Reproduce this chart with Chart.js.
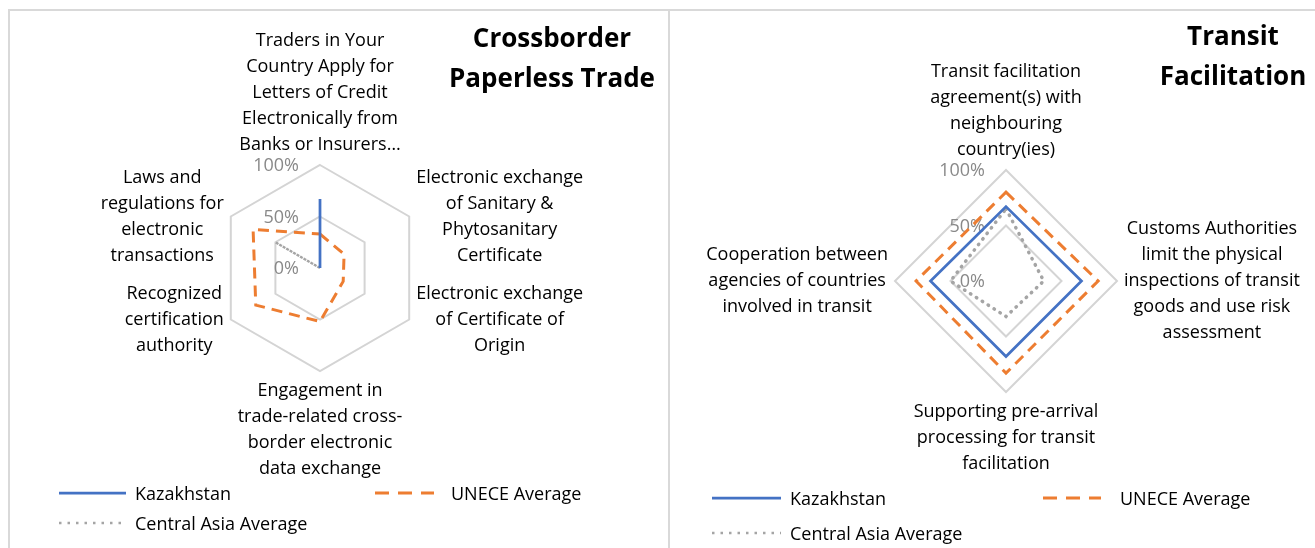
<!DOCTYPE html>
<html>
<head>
<meta charset="utf-8">
<script src="https://cdn.jsdelivr.net/npm/chart.js@4.4.1/dist/chart.umd.min.js"></script>
<style>
  html, body { margin: 0; padding: 0; background: #fff; }
  body { width: 1315px; height: 548px; position: relative; overflow: hidden; font-family: "Open Sans", sans-serif; }
  canvas { position: absolute; top: 0; }
  .panel { position: absolute; border: 2px solid #d9d9d9; box-sizing: border-box; }
  .title { position: absolute; width: 220px; text-align: center; font-weight: bold; font-size: 26px; line-height: 40px; color: #000; }
  .leg { position: absolute; font-size: 18px; line-height: 26px; color: #000; white-space: nowrap; }
  .legline { position: absolute; }
</style>
</head>
<body>
<div class="panel" style="left:8px;top:9px;width:662px;height:560px"></div>
<div class="panel" style="left:668px;top:9px;width:660px;height:560px"></div>
<canvas id="paperlessChart" width="668" height="548" style="left:0"></canvas>
<canvas id="transitChart" width="647" height="548" style="left:668px"></canvas>
<div class="title" style="left:442px;top:17px">Crossborder<br>Paperless Trade</div>
<div class="title" style="left:1123px;top:15px">Transit<br>Facilitation</div>
<div id="legends"></div>
<script>
// Series
const seriesNames = ['Kazakhstan', 'UNECE Average', 'Central Asia Average'];

// Crossborder paperless trade
const paperlessLabels = [
    ['Traders in Your', 'Country Apply for', 'Letters of Credit', 'Electronically from', 'Banks or Insurers…'],
    ['Electronic exchange', 'of Sanitary &', 'Phytosanitary', 'Certificate'],
    ['Electronic exchange', 'of Certificate of', 'Origin'],
    ['Engagement in', 'trade-related cross-', 'border electronic', 'data exchange'],
    ['Recognized', 'certification', 'authority'],
    ['Laws and', 'regulations for', 'electronic', 'transactions']
];
const paperlessKazakhstan = [67, 0, 0, 0, 0, 0];
const paperlessUnece = [33, 27, 26, 52, 72, 75];
const paperlessCentralAsia = [0, 0, 0, 0, 0, 50];

// Transit facilitation
const transitLabels = [
    ['Transit facilitation', 'agreement(s) with', 'neighbouring', 'country(ies)'],
    ['Customs Authorities', 'limit the physical', 'inspections of transit', 'goods and use risk', 'assessment'],
    ['Supporting pre-arrival', 'processing for transit', 'facilitation'],
    ['Cooperation between', 'agencies of countries', 'involved in transit']
];
const transitKazakhstan = [67, 68, 68, 68];
const transitUnece = [80, 83, 83, 81];
const transitCentralAsia = [65, 34, 32, 50];

// Axis
const axisMin = 0;
const axisMax = 100;
const axisStep = 50;

const BLUE = '#4472c4';
const ORANGE = '#ed7d31';
const GREY = '#a5a5a5';

Chart.defaults.font.family = '"Open Sans", sans-serif';

// point labels and tick labels placed the way Excel does it
const excelLabels = {
    id: 'excelLabels',
    beforeDatasetsDraw(chart) {
        const scale = chart.scales.r;
        const ctx = chart.ctx;
        ctx.save();
        ctx.font = '18px "Open Sans"';
        ctx.textBaseline = 'middle';
        ctx.textAlign = 'right';
        ctx.fillStyle = '#898989';
        scale.ticks.forEach(t => {
            const d = scale.getDistanceFromCenterForValue(t.value);
            ctx.fillText(t.value + '%', scale.xCenter - 21, scale.yCenter - d + 1);
        });
        ctx.restore();
    },
    afterDraw(chart) {
        const scale = chart.scales.r;
        const ctx = chart.ctx;
        const lineH = 26, gap = 7;
        const labels = chart.data.labels;
        const n = labels.length;
        ctx.save();
        ctx.font = '18px "Open Sans"';
        ctx.textBaseline = 'middle';
        ctx.textAlign = 'center';
        ctx.fillStyle = '#000';
        labels.forEach((lines, i) => {
            const p = scale.getPointPosition(i, scale.drawingArea);
            const deg = i * 360 / n;
            const w = Math.max(...lines.map(s => ctx.measureText(s).width));
            const h = lines.length * lineH;
            let cx, top;
            if (deg === 0) { cx = p.x; top = p.y - gap - h; }
            else if (deg === 180) { cx = p.x; top = p.y + gap; }
            else if (deg < 180) { cx = p.x + gap + w / 2; top = p.y - h / 2; }
            else { cx = p.x - gap - w / 2; top = p.y - h / 2; }
            lines.forEach((s, k) => ctx.fillText(s, cx, top + lineH * k + lineH / 2));
        });
        ctx.restore();
    }
};

function radarOptions(pad) {
    return {
        responsive: false,
        animation: false,
        layout: { padding: pad },
        plugins: { legend: { display: false }, tooltip: { enabled: false } },
        elements: { point: { radius: 0, hoverRadius: 0 }, line: { tension: 0 } },
        scales: {
            r: {
                min: axisMin,
                max: axisMax,
                ticks: { stepSize: axisStep, display: false },
                grid: { color: '#d4d4d4', lineWidth: 2 },
                angleLines: { display: false },
                pointLabels: { display: false }
            }
        }
    };
}

new Chart(document.getElementById('paperlessChart'), {
    type: 'radar',
    data: {
        labels: paperlessLabels,
        datasets: [
            { label: seriesNames[0], data: paperlessKazakhstan, borderColor: BLUE, borderWidth: 2.75, fill: false },
            { label: seriesNames[1], data: paperlessUnece, borderColor: ORANGE, borderWidth: 3, borderDash: [11, 7], fill: false },
            { label: seriesNames[2], data: paperlessCentralAsia, borderColor: GREY, borderWidth: 2.5, borderDash: [2, 2], fill: false }
        ]
    },
    options: radarOptions({ left: 217, right: 245, top: 165, bottom: 177 }),
    plugins: [excelLabels]
});

new Chart(document.getElementById('transitChart'), {
    type: 'radar',
    data: {
        labels: transitLabels,
        datasets: [
            { label: seriesNames[0], data: transitKazakhstan, borderColor: BLUE, borderWidth: 2.75, fill: false },
            { label: seriesNames[1], data: transitUnece, borderColor: ORANGE, borderWidth: 3, borderDash: [11, 7], fill: false },
            { label: seriesNames[2], data: transitCentralAsia, borderColor: GREY, borderWidth: 3.5, borderDash: [0.5, 6.5], borderCapStyle: 'round', fill: false }
        ]
    },
    options: radarOptions({ left: 227, right: 198, top: 170, bottom: 156 }),
    plugins: [excelLabels]
});

// Legends (two columns, like the Excel ones)
const legendStyles = [
    { color: BLUE, dash: '', width: 2.75, cap: 'butt' },
    { color: ORANGE, dash: '14,9', width: 3, cap: 'butt' },
    { color: GREY, dash: '2.5,6', width: 2.5, cap: 'butt' }
];
const legendSpots = [
    [{ x1: 59, x2: 126, y: 493, tx: 135 }, { x1: 375, x2: 434, y: 493, tx: 451 }, { x1: 59, x2: 126, y: 523, tx: 135 }],
    [{ x1: 712, x2: 781, y: 498, tx: 790 }, { x1: 1043, x2: 1101, y: 498, tx: 1120 }, { x1: 712, x2: 781, y: 533, tx: 790 }]
];
const legendBox = document.getElementById('legends');
legendSpots.forEach(spots => {
    spots.forEach((s, i) => {
        const st = legendStyles[i];
        const w = s.x2 - s.x1;
        const svg = document.createElementNS('http://www.w3.org/2000/svg', 'svg');
        svg.setAttribute('class', 'legline');
        svg.setAttribute('width', w);
        svg.setAttribute('height', 10);
        svg.style.left = s.x1 + 'px';
        svg.style.top = (s.y - 5) + 'px';
        const ln = document.createElementNS('http://www.w3.org/2000/svg', 'line');
        ln.setAttribute('x1', 0);
        ln.setAttribute('x2', w);
        ln.setAttribute('y1', 5);
        ln.setAttribute('y2', 5);
        ln.setAttribute('stroke', st.color);
        ln.setAttribute('stroke-width', st.width);
        ln.setAttribute('stroke-linecap', st.cap);
        if (st.dash) ln.setAttribute('stroke-dasharray', st.dash);
        svg.appendChild(ln);
        legendBox.appendChild(svg);
        const txt = document.createElement('div');
        txt.className = 'leg';
        txt.style.left = s.tx + 'px';
        txt.style.top = (s.y - 13) + 'px';
        txt.textContent = seriesNames[i];
        legendBox.appendChild(txt);
    });
});
</script>
</body>
</html>
